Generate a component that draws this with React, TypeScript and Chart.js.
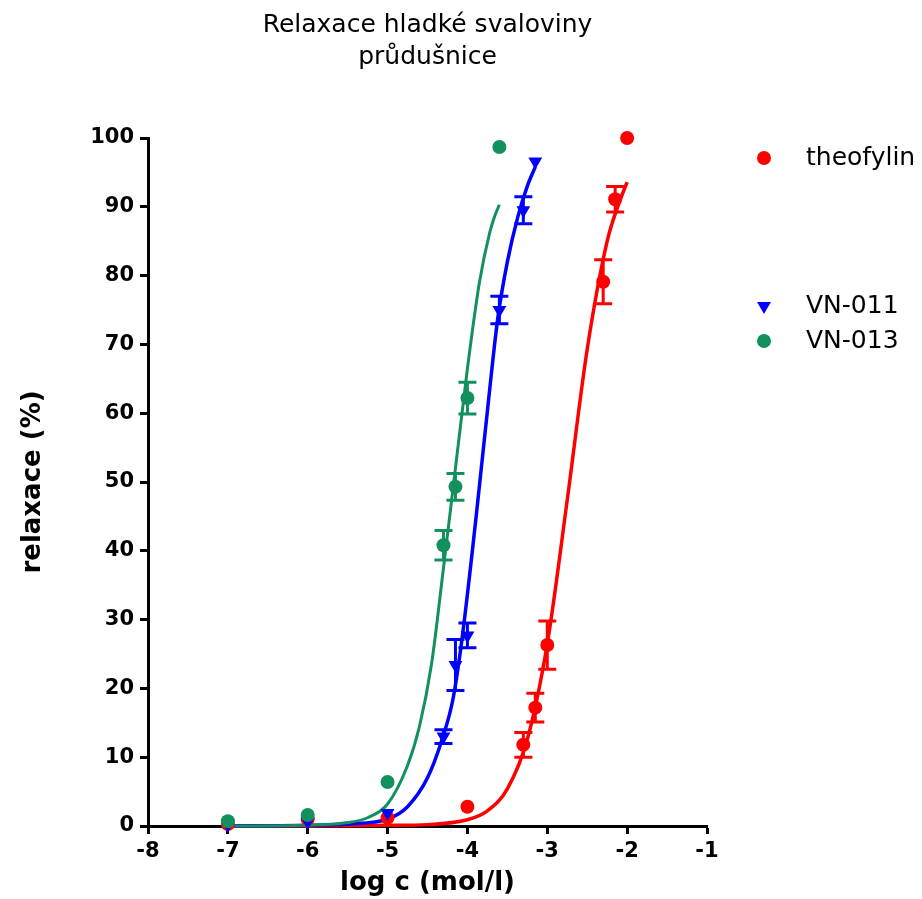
import React, { useEffect, useRef } from 'react';
import { Chart, registerables } from 'chart.js';

Chart.register(...registerables);

const RED = '#FF0000';
const BLUE = '#0000FF';
const GREEN = '#12905E';

const titleLines = ['Relaxace hladké svaloviny', 'průdušnice'];
const xAxisTitle = 'log c (mol/l)';
const yAxisTitle = 'relaxace (%)';
const seriesNames = ['theofylin', 'VN-011', 'VN-013'];

// theofylin – measured points (mean ± SEM)
const theoX = [-7, -6, -5, -4, -3.3, -3.15, -3.0, -2.3, -2.15, -2.0];
const theoY = [0.3, 1.0, 1.2, 2.8, 11.8, 17.2, 26.3, 79.1, 91.1, 100];
const theoErr = [0, 0, 0, 0, 1.8, 2.1, 3.5, 3.2, 1.85, 0];
// theofylin – fitted curve
const theoFitX = [-7, -6, -5, -4.5, -4, -3.75, -3.5, -3.25, -3, -2.75, -2.5, -2.25, -2.1, -2];
const theoFitY = [0, 0, 0.1, 0.2, 0.9, 2.2, 5.4, 12.6, 26.5, 47.4, 69.3, 85.0, 90.6, 93.6];

// VN-011
const vn011X = [-7, -6, -5, -4.3, -4.15, -4.0, -3.6, -3.3, -3.15];
const vn011Y = [0.2, 0.6, 1.9, 13.0, 23.4, 27.7, 75.0, 89.5, 96.6];
const vn011Err = [0, 0, 0, 1.0, 3.7, 1.8, 2.0, 1.95, 0];
const vn011FitX = [-7, -6, -5.5, -5, -4.75, -4.5, -4.32, -4.18, -4.07, -3.9, -3.73, -3.62, -3.5, -3.37, -3.25, -3.15];
const vn011FitY = [0, 0.1, 0.3, 1.0, 2.8, 7.0, 12.5, 18.5, 27, 44, 62.5, 73.8, 82, 88.5, 93, 95.8];

// VN-013
const vn013X = [-7, -6, -5, -4.3, -4.15, -4.0, -3.6];
const vn013Y = [0.7, 1.6, 6.4, 40.8, 49.3, 62.2, 98.7];
const vn013Err = [0, 0, 0, 2.15, 1.95, 2.3, 0];
const vn013FitX = [-7, -6, -5.5, -5.25, -5, -4.75, -4.6, -4.45, -4.3, -4.15, -4.0, -3.85, -3.72, -3.66, -3.6];
const vn013FitY = [0, 0.1, 0.5, 1.2, 3.2, 8.8, 14.5, 23.5, 37.5, 52, 66.5, 79, 86.3, 88.6, 90.3];

const xMin = -8;
const xMax = -1;
const yMin = 0;
const yMax = 100;

const pts = (xs: number[], ys: number[]) => xs.map((x, i) => ({ x, y: ys[i] }));

const FONT = 'DejaVu Sans';

const errorBarPlugin = {
  id: 'errorBars',
  afterDatasetDraw(chart: any, args: any) {
    const ds = chart.data.datasets[args.index];
    const errs: number[] | undefined = ds.errorBars;
    if (!errs) return;
    const { ctx } = chart;
    const xs = chart.scales.x;
    const ys = chart.scales.y;
    ctx.save();
    ctx.strokeStyle = ds.borderColor;
    ctx.lineWidth = 3;
    ds.data.forEach((p: any, i: number) => {
      const e = errs[i];
      if (!e) return;
      const px = xs.getPixelForValue(p.x);
      const top = ys.getPixelForValue(p.y + e);
      const bot = ys.getPixelForValue(p.y - e);
      ctx.beginPath();
      ctx.moveTo(px, top);
      ctx.lineTo(px, bot);
      ctx.moveTo(px - 9, top);
      ctx.lineTo(px + 9, top);
      ctx.moveTo(px - 9, bot);
      ctx.lineTo(px + 9, bot);
      ctx.stroke();
    });
    ctx.restore();
  },
};

const sideLegendPlugin = {
  id: 'sideLegend',
  afterDraw(chart: any) {
    const { ctx, chartArea } = chart;
    const rowOffsets = [20, 168, 203];
    const items = chart.data.datasets.filter((d: any) => d.legendRow !== undefined);
    ctx.save();
    items.forEach((d: any) => {
      const y = chartArea.top + rowOffsets[d.legendRow];
      const mx = chartArea.right + 57;
      ctx.fillStyle = d.backgroundColor;
      ctx.beginPath();
      if (d.pointStyle === 'triangle') {
        const r = 8;
        ctx.moveTo(mx - r * 0.866, y - r * 0.5);
        ctx.lineTo(mx + r * 0.866, y - r * 0.5);
        ctx.lineTo(mx, y + r);
        ctx.closePath();
      } else {
        ctx.arc(mx, y, 7, 0, Math.PI * 2);
      }
      ctx.fill();
      ctx.fillStyle = '#000';
      ctx.font = `normal 25px "${FONT}"`;
      ctx.textBaseline = 'middle';
      ctx.textAlign = 'left';
      ctx.fillText(d.label, chartArea.right + 99, y);
    });
    ctx.restore();
  },
};

export default function App() {
  const ref = useRef<HTMLCanvasElement | null>(null);

  useEffect(() => {
    if (!ref.current) return;
    const curve = (label: string, xs: number[], ys: number[], color: string, order: number, width: number) => ({
      label,
      data: pts(xs, ys),
      showLine: true,
      borderColor: color,
      backgroundColor: color,
      borderWidth: width,
      pointRadius: 0,
      cubicInterpolationMode: 'monotone',
      clip: false,
      order,
    });
    const points = (
      label: string,
      xs: number[],
      ys: number[],
      errs: number[],
      color: string,
      style: string,
      order: number,
      legendRow: number,
    ) => ({
      label,
      data: pts(xs, ys),
      showLine: false,
      borderColor: color,
      backgroundColor: color,
      pointStyle: style,
      pointRotation: style === 'triangle' ? 180 : 0,
      pointRadius: style === 'triangle' ? 8 : 7,
      pointBorderWidth: 0,
      clip: false,
      order,
      errorBars: errs,
      legendRow,
    });

    const chart = new Chart(ref.current, {
      type: 'scatter',
      data: {
        datasets: [
          curve(seriesNames[0] + ' fit', theoFitX, theoFitY, RED, 5, 3.5),
          curve(seriesNames[1] + ' fit', vn011FitX, vn011FitY, BLUE, 4, 3.5),
          curve(seriesNames[2] + ' fit', vn013FitX, vn013FitY, GREEN, 3, 3),
          points(seriesNames[0], theoX, theoY, theoErr, RED, 'circle', 2, 0),
          points(seriesNames[1], vn011X, vn011Y, vn011Err, BLUE, 'triangle', 1, 1),
          points(seriesNames[2], vn013X, vn013Y, vn013Err, GREEN, 'circle', 0, 2),
        ] as any,
      },
      options: {
        responsive: false,
        animation: false,
        layout: { padding: { left: 0, right: 207, top: 0, bottom: 0 } },
        plugins: {
          legend: { display: false },
          tooltip: { enabled: false },
          title: {
            display: true,
            text: titleLines,
            fullSize: false,
            color: '#000',
            font: { family: FONT, size: 25, weight: 'normal', lineHeight: 1.28 },
            padding: { top: 1, bottom: 65 },
          },
        },
        scales: {
          x: {
            type: 'linear',
            min: xMin,
            max: xMax,
            afterFit: (s: any) => {
              s.height = 73;
            },
            ticks: {
              stepSize: 1,
              color: '#000',
              padding: 5,
              font: { family: FONT, size: 21, weight: 'bold' },
              callback: (v: any) => String(v),
            },
            grid: {
              display: true,
              drawOnChartArea: false,
              drawTicks: true,
              tickLength: 8,
              tickColor: '#000',
              tickWidth: 3,
            },
            border: { display: true, color: '#000', width: 3 },
            title: {
              display: true,
              text: xAxisTitle,
              color: '#000',
              font: { family: FONT, size: 26, weight: 'bold', lineHeight: 1.2 },
              padding: { top: 0, bottom: 0 },
            },
          },
          y: {
            type: 'linear',
            min: yMin,
            max: yMax,
            afterFit: (s: any) => {
              s.width = 140;
            },
            ticks: {
              stepSize: 10,
              color: '#000',
              padding: 6,
              font: { family: FONT, size: 21, weight: 'bold' },
              callback: (v: any) => String(v),
            },
            grid: {
              display: true,
              drawOnChartArea: false,
              drawTicks: true,
              tickLength: 8,
              tickColor: '#000',
              tickWidth: 3,
            },
            border: { display: true, color: '#000', width: 3 },
            title: {
              display: true,
              text: yAxisTitle,
              color: '#000',
              font: { family: FONT, size: 26, weight: 'bold', lineHeight: 1.2 },
              padding: { top: 10, bottom: 0 },
            },
          },
        },
      } as any,
      plugins: [errorBarPlugin, sideLegendPlugin],
    });
    return () => chart.destroy();
  }, []);

  return (
    <div style={{ width: 906, height: 891 }}>
      <canvas ref={ref} width={906} height={891} style={{ display: 'block' }} />
    </div>
  );
}
